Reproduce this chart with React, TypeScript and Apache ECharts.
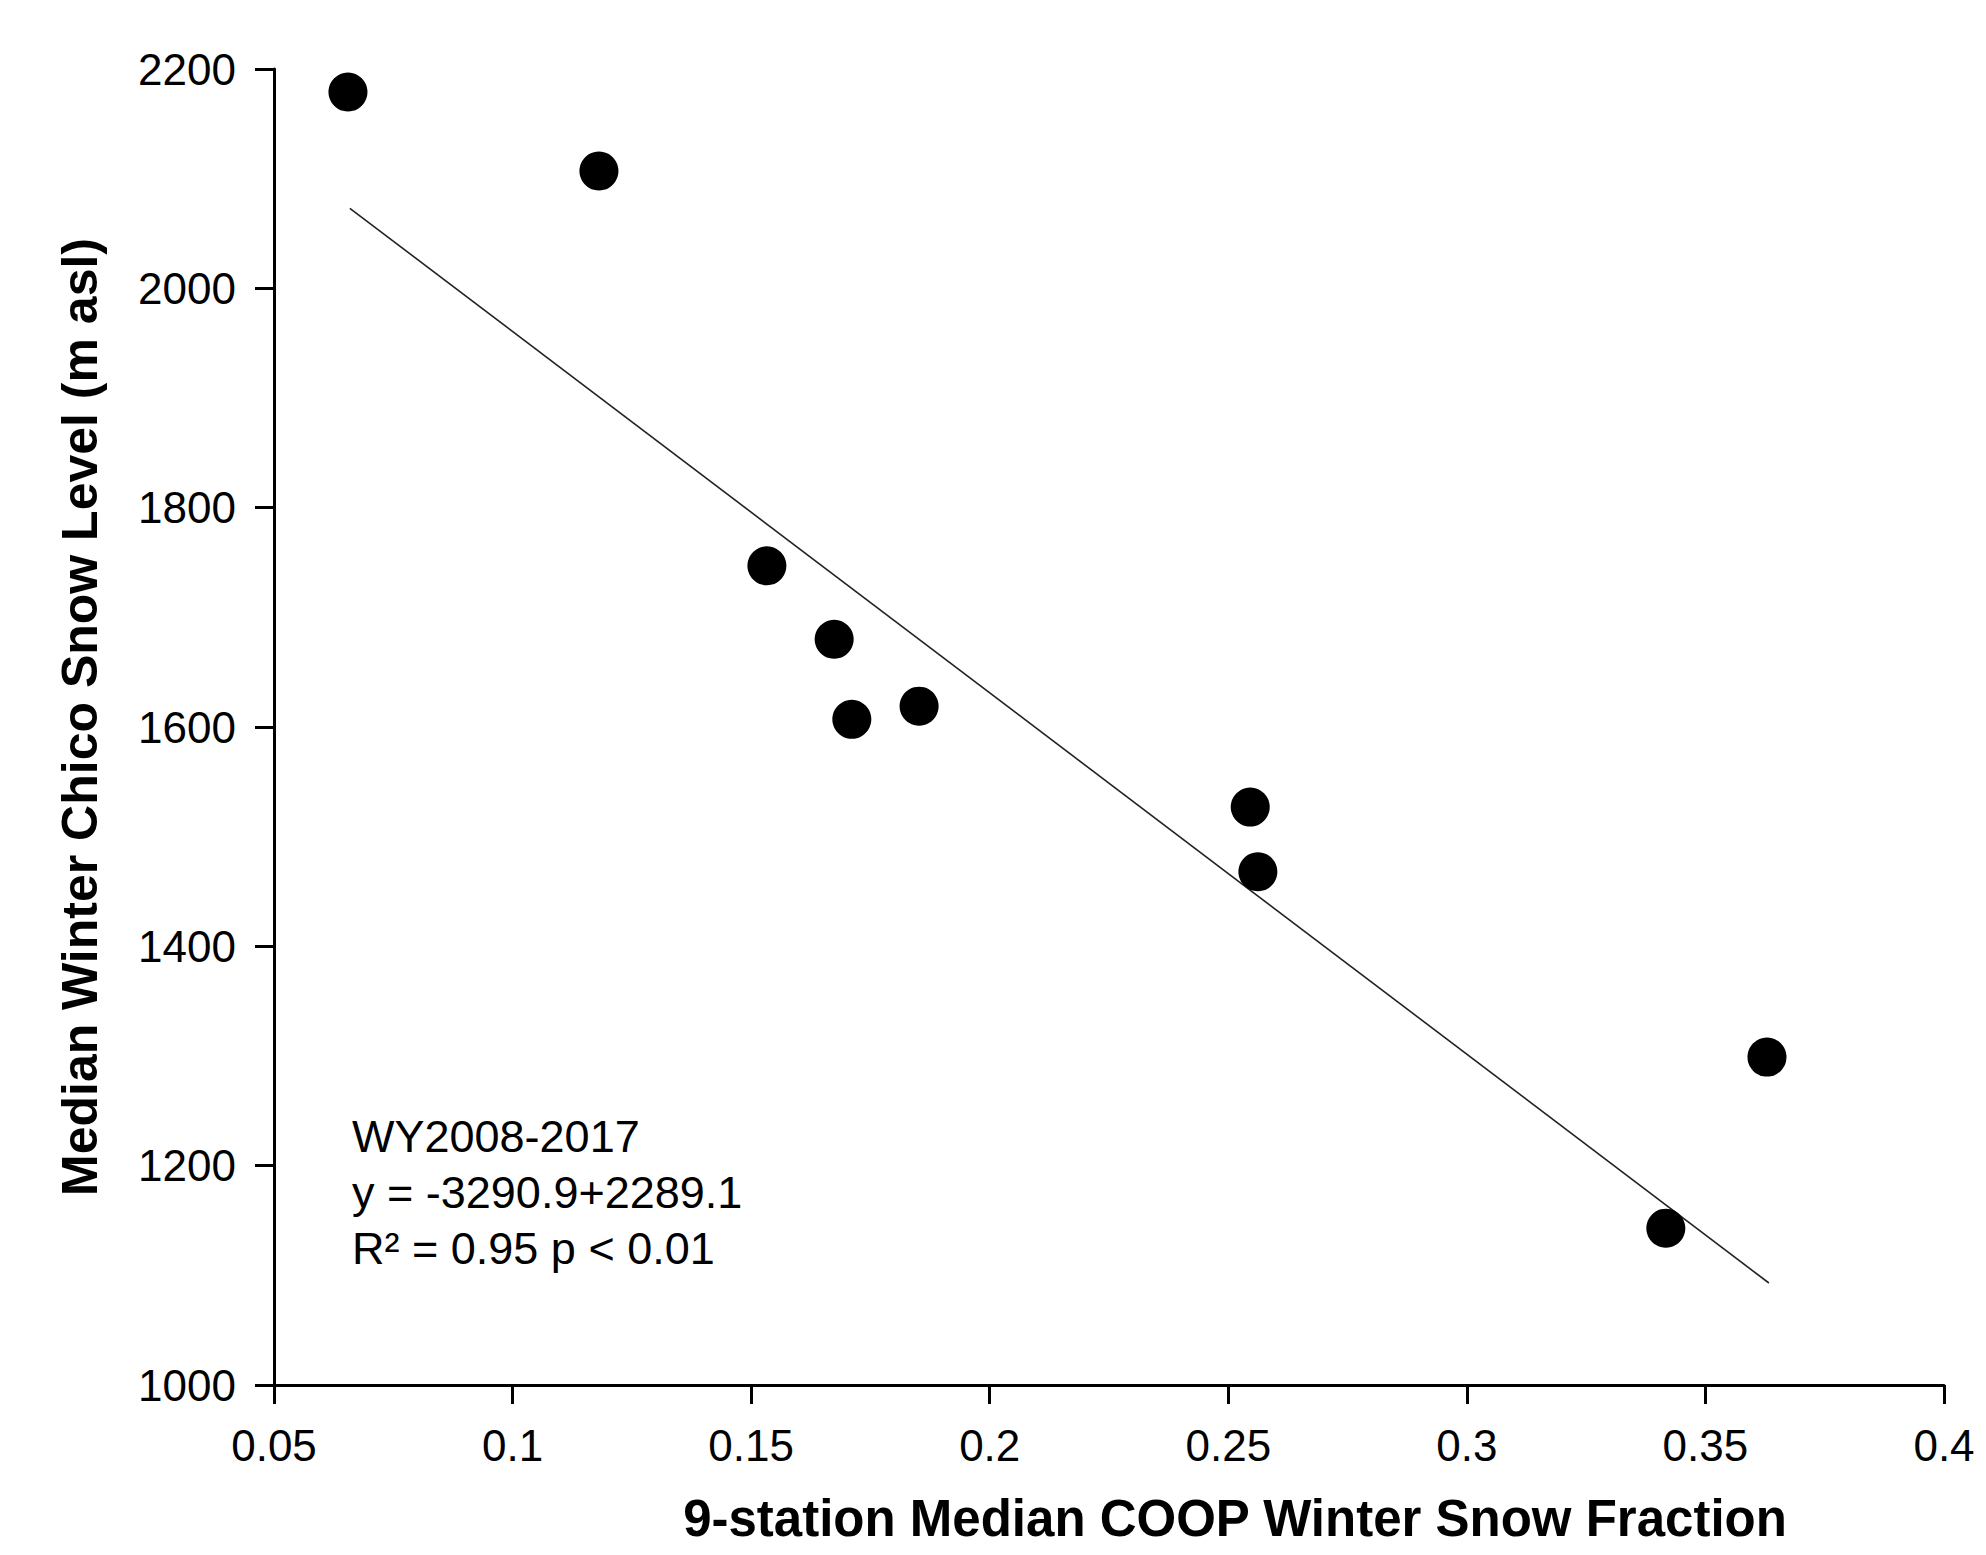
import React, { useEffect, useRef } from "react";
import * as echarts from "echarts";

const snowFraction = [0.0655, 0.1181, 0.1533, 0.1674, 0.1711, 0.1852, 0.2546, 0.2562, 0.3629, 0.3417];
const snowLevel = [2179, 2107, 1747, 1680, 1607, 1619, 1527, 1468, 1299, 1143];
const fitX = [0.0659, 0.3633];
const fitY = [2073, 1093];
const xRange = [0.05, 0.4, 0.05];
const yRange = [1000, 2200, 200];
const annotationLines = ["WY2008-2017", "y = -3290.9+2289.1", "R² = 0.95 p < 0.01"];
const xTitle = "9-station Median COOP Winter Snow Fraction";
const yTitle = "Median Winter Chico Snow Level (m asl)";

const FONT = "'Liberation Sans', Arial, Helvetica, sans-serif";

export default function App() {
  const ref = useRef<HTMLDivElement>(null);
  useEffect(() => {
    if (!ref.current) return;
    const chart = echarts.init(ref.current, undefined, { renderer: "svg" });
    const axisCommon = {
      axisLine: { show: true, lineStyle: { color: "#000", width: 3 } },
      axisTick: { show: true, inside: false, length: 19, lineStyle: { color: "#000", width: 3 } },
      splitLine: { show: false },
    };
    chart.setOption({
      animation: false,
      backgroundColor: "#fff",
      grid: { left: 274, top: 69, width: 1670, height: 1316, containLabel: false },
      xAxis: {
        type: "value",
        min: xRange[0],
        max: xRange[1],
        interval: xRange[2],
        ...axisCommon,
        axisLabel: {
          color: "#000",
          fontSize: 44,
          fontFamily: FONT,
          margin: 38,
          formatter: (v: number) => String(+v.toFixed(2)),
        },
      },
      yAxis: {
        type: "value",
        min: yRange[0],
        max: yRange[1],
        interval: yRange[2],
        ...axisCommon,
        axisLabel: {
          color: "#000",
          fontSize: 44,
          fontFamily: FONT,
          margin: 38,
          formatter: (v: number) => String(Math.round(v)),
        },
      },
      series: [
        {
          type: "line",
          data: fitX.map((x, i) => [x, fitY[i]]),
          showSymbol: false,
          symbol: "none",
          lineStyle: { color: "#222", width: 1.6 },
          z: 2,
        },
        {
          type: "scatter",
          data: snowFraction.map((x, i) => [x, snowLevel[i]]),
          symbol: "circle",
          symbolSize: 39,
          itemStyle: { color: "#000", opacity: 1 },
          z: 3,
        },
      ],
      graphic: [
        {
          type: "text",
          x: 352,
          y: 1108,
          style: {
            text: annotationLines.join("\n"),
            fontSize: 45,
            fontFamily: FONT,
            fill: "#000",
            lineHeight: 56,
            align: "left",
            verticalAlign: "top",
          },
        },
        {
          type: "text",
          x: 1235,
          y: 1518,
          style: {
            text: xTitle,
            fontSize: 51,
            fontWeight: "bold",
            fontFamily: FONT,
            fill: "#000",
            align: "center",
            verticalAlign: "middle",
          },
        },
        {
          type: "text",
          x: 80,
          y: 717,
          rotation: Math.PI / 2,
          style: {
            text: yTitle,
            fontSize: 50,
            fontWeight: "bold",
            fontFamily: FONT,
            fill: "#000",
            align: "center",
            verticalAlign: "middle",
          },
        },
      ],
    });
    return () => chart.dispose();
  }, []);
  return (
    <div
      ref={ref}
      style={{ position: "fixed", left: 0, top: 0, width: 1986, height: 1555, background: "#fff" }}
    />
  );
}
